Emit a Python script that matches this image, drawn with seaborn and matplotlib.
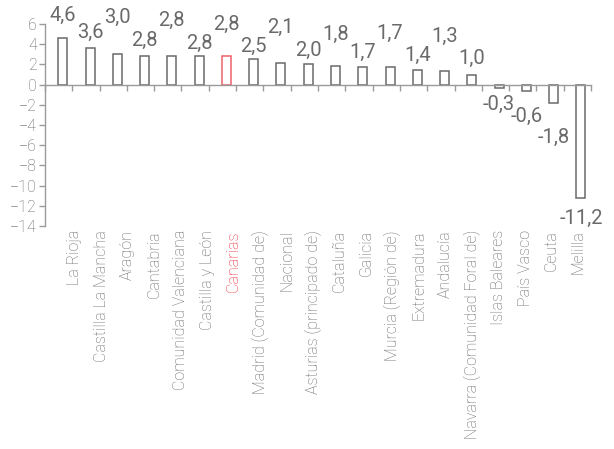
import numpy as np
import pandas as pd
import matplotlib
matplotlib.use("Agg")
import matplotlib.pyplot as plt
import seaborn as sns

# Data
regions = ["La Rioja", "Castilla La Mancha", "Aragón", "Cantabria",
           "Comunidad Valenciana", "Castilla y León", "Canarias",
           "Madrid (Comunidad de)", "Nacional", "Asturias (principado de)",
           "Cataluña", "Galicia", "Murcia (Región de)", "Extremadura",
           "Andalucía", "Navarra (Comunidad Foral de)", "Islas Baleares",
           "País Vasco", "Ceuta", "Melilla"]
values = [4.6, 3.6, 3.0, 2.8, 2.8, 2.8, 2.8, 2.5, 2.1, 2.0,
          1.8, 1.7, 1.7, 1.4, 1.3, 1.0, -0.3, -0.6, -1.8, -11.2]
value_labels = ["4,6", "3,6", "3,0", "2,8", "2,8", "2,8", "2,8", "2,5", "2,1", "2,0",
                "1,8", "1,7", "1,7", "1,4", "1,3", "1,0", "-0,3", "-0,6", "-1,8", "-11,2"]
highlight = "Canarias"

# label gap from bar end, in pixels (staggered like the original)
label_gap_px = [17, 10, 31, 10, 30, 7, 26, 7, 30, 8,
                27, 10, 29, 10, 30, 11, 7, 16, 25, 11]

df = pd.DataFrame({"region": regions, "value": values})

sns.set_theme(style="white")
plt.rcParams["font.family"] = ["Roboto", "DejaVu Sans"]

grey = "#6a6a6a"
light = "#666666"
red = "#ee2a36"

fig = plt.figure(figsize=(6.14, 4.49), dpi=100)
ax = fig.add_axes([45 / 614, 1 - 226 / 449, (591 - 45) / 614, (226 - 24) / 449])

sns.barplot(data=df, x="region", y="value", color="white", edgecolor=grey,
            linewidth=1.1, width=0.33, ax=ax)

for patch, reg in zip(ax.patches, regions):
    if reg == highlight:
        patch.set_edgecolor("#f0606a")

ax.set_ylim(-14, 6)
ax.set_yticks(range(-14, 7, 2))
ax.set_xlim(-0.65, len(regions) - 0.63)
ax.set_xlabel("")
ax.set_ylabel("")

# x axis at zero, ticks between categories
for s in ["top", "right"]:
    ax.spines[s].set_visible(False)
ax.spines["bottom"].set_position(("data", 0))
for s in ["left", "bottom"]:
    ax.spines[s].set_color("#9a9a9a")
    ax.spines[s].set_linewidth(1.0)
x0, x1 = ax.get_xlim()
ax.set_xticks(np.linspace(x0, x1, len(regions) + 1))
ax.set_xticklabels([])
ax.tick_params(axis="x", direction="out", length=4, width=1, color="#9a9a9a", bottom=True)
ax.tick_params(axis="y", direction="out", length=4, width=1, color="#9a9a9a", left=True,
               labelsize=11.5, labelcolor=light, pad=2)
for t in ax.get_yticklabels():
    t.set_fontweight("light")

# category labels under the plot area (spaced slightly tighter than the bars, as in the original)
label_x = np.linspace(0.44, len(regions) - 1.1, len(regions))
for xpos, reg in zip(label_x, regions):
    ax.text(xpos, -0.02, reg, transform=ax.get_xaxis_transform(),
            rotation=90, ha="center", va="top", fontsize=11.5, fontweight="light",
            color=red if reg == highlight else light)

# value labels
for i, (v, lab, gap) in enumerate(zip(values, value_labels, label_gap_px)):
    off = gap * 0.72
    if v >= 0:
        ax.annotate(lab, (i, v), xytext=(0, off), textcoords="offset points",
                    ha="center", va="baseline", fontsize=14.5, color=grey)
    else:
        ax.annotate(lab, (i, v), xytext=(0, -off), textcoords="offset points",
                    ha="center", va="top", fontsize=14.5, color=grey)

fig.savefig("out.png", dpi=100, facecolor="white")
